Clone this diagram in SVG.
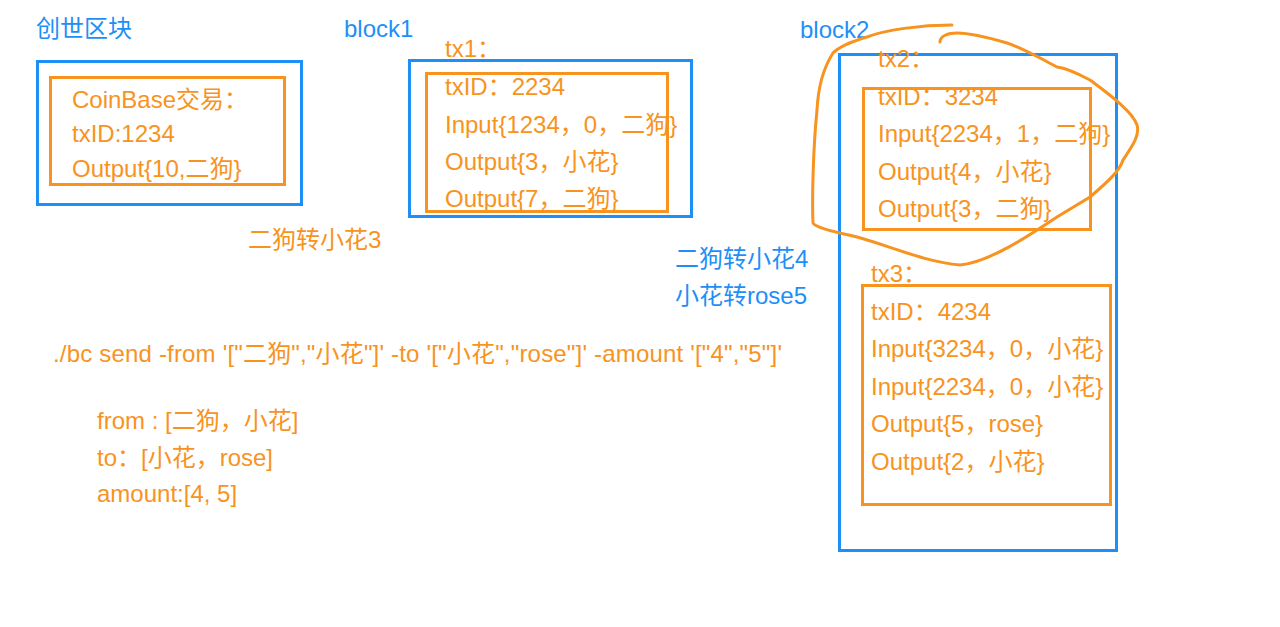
<svg xmlns="http://www.w3.org/2000/svg" width="1280" height="627" viewBox="0 0 1280 627">
<style>
.t{font-family:"Liberation Sans","Noto Sans CJK SC",sans-serif;font-size:24px}
.b{fill:#1e8ff7}
.o{fill:#f7931e}
.bb{fill:none;stroke:#1e8ff7;stroke-width:3}
.ob{fill:none;stroke:#f7931e;stroke-width:3}
</style>
<rect width="1280" height="627" fill="#ffffff"/>
<g id="genesis">
<text class="t b" x="36" y="37">创世区块</text>
<rect class="bb" x="37.5" y="61.5" width="264" height="143"/>
<rect class="ob" x="50.5" y="77.5" width="234" height="107"/>
<text class="t o" x="72" y="108">CoinBase交易：</text>
<text class="t o" x="72" y="142">txID:1234</text>
<text class="t o" x="72" y="177">Output{10,二狗}</text>
</g>
<g id="label3"><text class="t o" x="248" y="248">二狗转小花3</text></g>
<g id="block1">
<text class="t b" x="344" y="37">block1</text>
<rect class="bb" x="409.5" y="60.5" width="282" height="156"/>
<text class="t o" x="445" y="57">tx1：</text>
<rect class="ob" x="426.5" y="73.5" width="241" height="138"/>
<text class="t o" x="445" y="95">txID：2234</text>
<text class="t o" x="445" y="133">Input{1234，0，二狗}</text>
<text class="t o" x="445" y="170">Output{3，小花}</text>
<text class="t o" x="445" y="207">Output{7，二狗}</text>
</g>
<g id="label45">
<text class="t b" x="675" y="267">二狗转小花4</text>
<text class="t b" x="675" y="304">小花转rose5</text>
</g>
<g id="block2">
<text class="t b" x="800" y="38">block2</text>
<rect class="bb" x="839.5" y="54.5" width="277" height="496"/>
</g>
<g id="tx2">
<text class="t o" x="878" y="67">tx2：</text>
<rect class="ob" x="863.5" y="88.5" width="227" height="141"/>
<text class="t o" x="878" y="105">txID：3234</text>
<text class="t o" x="878" y="142">Input{2234，1，二狗}</text>
<text class="t o" x="878" y="180">Output{4，小花}</text>
<text class="t o" x="878" y="217">Output{3，二狗}</text>
</g>
<g id="tx3">
<text class="t o" x="871" y="282">tx3：</text>
<rect class="ob" x="862.5" y="285.5" width="248" height="219"/>
<text class="t o" x="871" y="320">txID：4234</text>
<text class="t o" x="871" y="357">Input{3234，0，小花}</text>
<text class="t o" x="871" y="395">Input{2234，0，小花}</text>
<text class="t o" x="871" y="432">Output{5，rose}</text>
<text class="t o" x="871" y="470">Output{2，小花}</text>
</g>
<g id="command">
<text class="t o" x="53" y="362" textLength="729" lengthAdjust="spacing">./bc send -from '["二狗","小花"]' -to '["小花","rose"]' -amount '["4","5"]'</text>
<text class="t o" x="97" y="429">from : [二狗，小花]</text>
<text class="t o" x="97" y="466">to：[小花，rose]</text>
<text class="t o" x="97" y="502">amount:[4, 5]</text>
</g>
<g id="connectors">
<path class="ob" stroke-linecap="round" d="M952 25 C920 25 885 30 867 37 C850 42 838 48 833 53 C822 70 818 90 817 110 C813 150 812 200 813 223 C815 228 840 233 857 237 C890 246 925 262 960 265 C990 262 1030 235 1057 217 C1075 206 1085 200 1090 197 C1110 180 1120 170 1123 160 C1133 145 1140 135 1137 125 C1133 112 1110 95 1090 80 C1075 72 1065 68 1057 67 C1040 58 1020 47 1007 43 C990 38 970 33 957 33 C948 33 940 36 940 42"/>
</g>
</svg>
